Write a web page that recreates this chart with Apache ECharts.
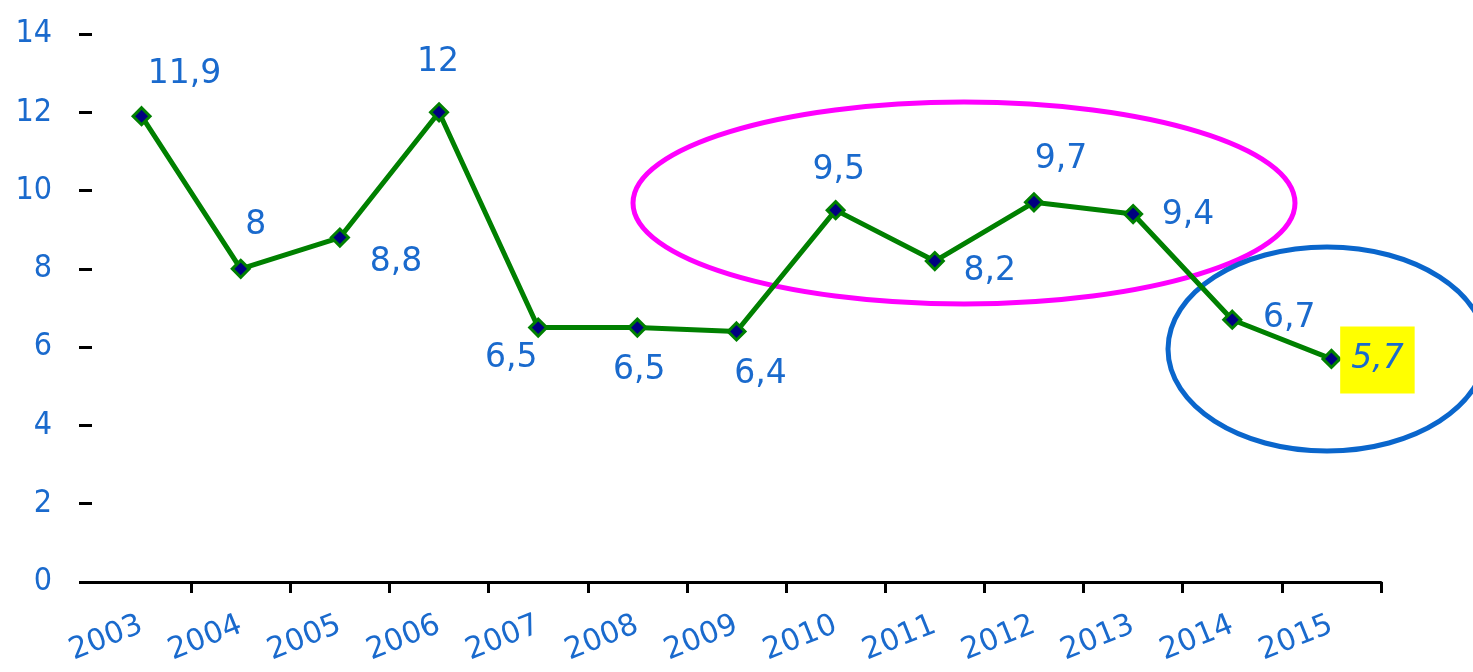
<!DOCTYPE html>
<html>
<head>
<meta charset="utf-8">
<script src="https://cdn.jsdelivr.net/npm/echarts@6/dist/echarts.min.js"></script>
<style>html,body{margin:0;padding:0;background:#fff}#c{width:1473px;height:672px}</style>
</head>
<body>
<div id="c"></div>
<script>
const years = ['2003','2004','2005','2006','2007','2008','2009','2010','2011','2012','2013','2014','2015'];
const values = [11.9, 8, 8.8, 12, 6.5, 6.5, 6.4, 9.5, 8.2, 9.7, 9.4, 6.7, 5.7];
const yTicks = [0, 2, 4, 6, 8, 10, 12, 14];

// label placement (pixel offsets of label centre from the point)
const labelOffsets = [[43,-42],[15,-43],[56,25],[-1,-50],[-27,31],[2,43],[24,43],[3,-40],[55,10],[27,-43],[55,1],[57,-1],[46,1]];

const BLUE = '#1a6acd';
const chart = echarts.init(document.getElementById('c'));

const seriesData = values.map((v, i) => {
  const item = { value: v, label: { offset: labelOffsets[i] } };
  if (i === values.length - 1) {
    item.label = {
      offset: labelOffsets[i],
      backgroundColor: '#ffff00',
      fontStyle: 'italic',
      padding: [17, 11, 17, 11]
    };
  }
  return item;
});

chart.setOption({
  animation: false,
  backgroundColor: '#ffffff',
  grid: { left: 92, right: 92, top: 34, bottom: 90 },
  xAxis: {
    type: 'category',
    data: years,
    boundaryGap: true,
    axisLine: { lineStyle: { color: '#000', width: 3 } },
    axisTick: { show: true, length: 11, lineStyle: { color: '#000', width: 3 },
      interval: function (i) { return i !== 0; } },
    axisLabel: { interval: 0, hideOverlap: false, rotate: 22, margin: 42, color: BLUE, fontSize: 30, fontFamily: 'DejaVu Sans' },
    splitLine: { show: false }
  },
  yAxis: {
    type: 'value',
    min: yTicks[0],
    max: yTicks[yTicks.length - 1],
    interval: 2,
    axisLine: { show: false },
    axisTick: { show: true, length: 13, lineStyle: { color: '#000', width: 3 } },
    axisLabel: { margin: 40, color: BLUE, fontSize: 32, fontFamily: "'DejaVu Sans Condensed', 'DejaVu Sans'", padding: [0, 0, 12, 0] },
    splitLine: { show: false }
  },
  series: [{
    type: 'line',
    data: seriesData,
    smooth: false,
    lineStyle: { color: '#008000', width: 5 },
    symbol: 'diamond',
    symbolSize: 17,
    itemStyle: { color: '#000080', borderColor: '#008000', borderWidth: 3 },
    label: {
      show: true,
      position: 'inside',
      color: BLUE,
      fontSize: 33,
      fontFamily: 'DejaVu Sans',
      formatter: p => String(p.value).replace('.', ',')
    },
    z: 3
  }],
  graphic: [
    { type: 'ellipse', shape: { cx: 964, cy: 203, rx: 331, ry: 101 },
      style: { fill: 'none', stroke: '#ff00ff', lineWidth: 5 }, z: 1 },
    { type: 'ellipse', shape: { cx: 1327, cy: 349, rx: 159, ry: 102 },
      style: { fill: 'none', stroke: '#0a66cc', lineWidth: 5 }, z: 1 }
  ]
});
</script>
</body>
</html>
